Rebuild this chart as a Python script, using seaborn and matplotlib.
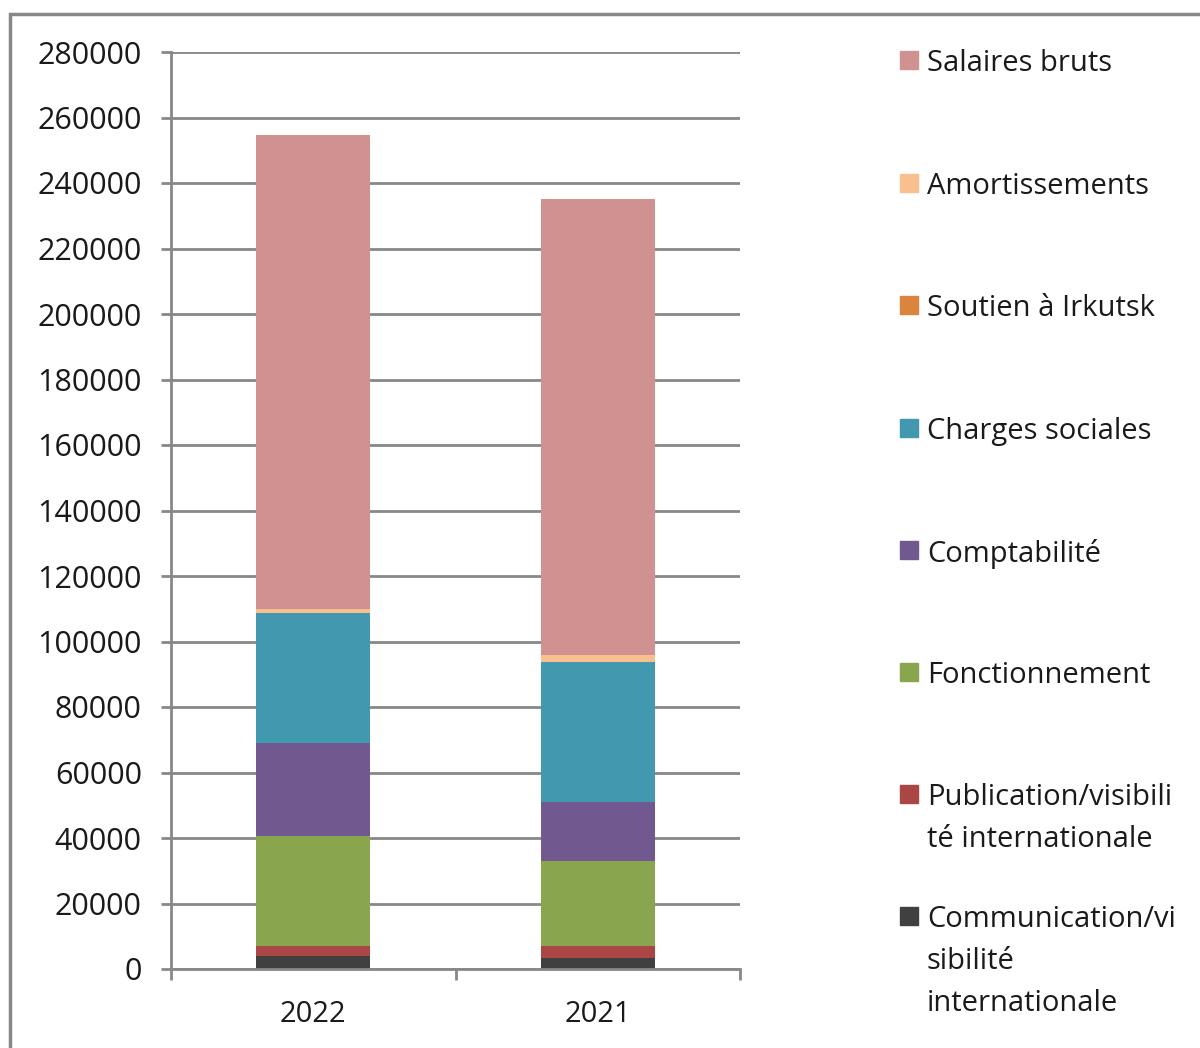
# Imports:
import numpy as np
import pandas as pd
import matplotlib
matplotlib.use("Agg")
import matplotlib.pyplot as plt
from matplotlib.patches import Rectangle
import seaborn as sns

# Data (stack order: bottom -> top):
annees = ["2022", "2021"]
postes = [
    "Communication/vi\nsibilité\ninternationale",
    "Publication/visibili\nté internationale",
    "Fonctionnement",
    "Comptabilité",
    "Charges sociales",
    "Soutien à Irkutsk",
    "Amortissements",
    "Salaires bruts",
]
communication = [3900, 3300]
publication = [3200, 3700]
fonctionnement = [33500, 26100]
comptabilite = [28300, 17900]
charges_sociales = [39700, 42800]
soutien_irkutsk = [0, 0]
amortissements = [1200, 2200]
salaires_bruts = [144800, 139000]

couleurs = ["#404040", "#AA4643", "#89A54E", "#71588F",
            "#4198AF", "#DB843D", "#F9BF8F", "#D09291"]

series = [communication, publication, fonctionnement, comptabilite,
          charges_sociales, soutien_irkutsk, amortissements, salaires_bruts]

# Dataframe (cumulative totals):
dataframe = pd.DataFrame(np.array(series).T, columns=postes)
dataframe["annee"] = annees
cumul = dataframe[postes].cumsum(axis=1)
cumul["annee"] = annees

# Style:
sns.set_theme(style="white")
plt.rcParams["font.family"] = ["Open Sans", "DejaVu Sans"]
gris = "#888888"

# Figure:
fig = plt.figure(figsize=(12, 10.48), dpi=100)
ax = fig.add_axes([171 / 1200, 79 / 1048, 569 / 1200, 917 / 1048])

# Bars (largest cumulative first, then overlay):
for poste, couleur in reversed(list(zip(postes, couleurs))):
    sns.barplot(
        data=cumul,
        x="annee",
        y=poste,
        order=annees,
        color=couleur,
        width=0.4,
        saturation=1,
        linewidth=0,
        ax=ax,
        zorder=3,
    )

# Axes:
ax.set_xlim(-0.5, 1.5)
ax.set_ylim(0, 280000)
ax.set_yticks(range(0, 280001, 20000))
ax.set_yticklabels([str(v) for v in range(0, 280001, 20000)])
ax.set_xlabel("")
ax.set_ylabel("")
ax.grid(axis="y", color=gris, linewidth=2, zorder=0)
ax.set_axisbelow(True)
for side in ["top", "right"]:
    ax.spines[side].set_visible(False)
for side in ["left", "bottom"]:
    ax.spines[side].set_color(gris)
    ax.spines[side].set_linewidth(2)
    ax.spines[side].set_zorder(4)

ax.tick_params(axis="y", direction="out", length=7, width=2, color=gris,
               left=True, labelsize=22, pad=14, labelcolor="#1a1a1a")
ax.set_xticks([-0.5, 0.5, 1.5], minor=True)
ax.tick_params(axis="x", which="major", length=0, labelsize=21, pad=22,
               labelcolor="#1a1a1a")
ax.tick_params(axis="x", which="minor", direction="out", length=8, width=2,
               color=gris, bottom=True)

# Legend (top -> bottom):
y_items = [60, 183, 305, 428, 550, 672, 794, 916]
for poste, couleur, y in zip(reversed(postes), reversed(couleurs), y_items):
    fig.patches.append(Rectangle((900 / 1200, 1 - (y + 9) / 1048), 18 / 1200, 18 / 1048,
                                 transform=fig.transFigure, color=couleur))
    fig.text(927 / 1200, 1 - (y - 11) / 1048, poste, fontsize=21, color="#1a1a1a",
             va="top", ha="left", linespacing=1.6)

# Border:
fig.patches.append(Rectangle((10 / 1200, -0.02), 1.1, 1 - 14 / 1048 + 0.02,
                             transform=fig.transFigure, fill=False,
                             edgecolor=gris, linewidth=2.5))

# Save:
fig.savefig("out.png", dpi=100)
